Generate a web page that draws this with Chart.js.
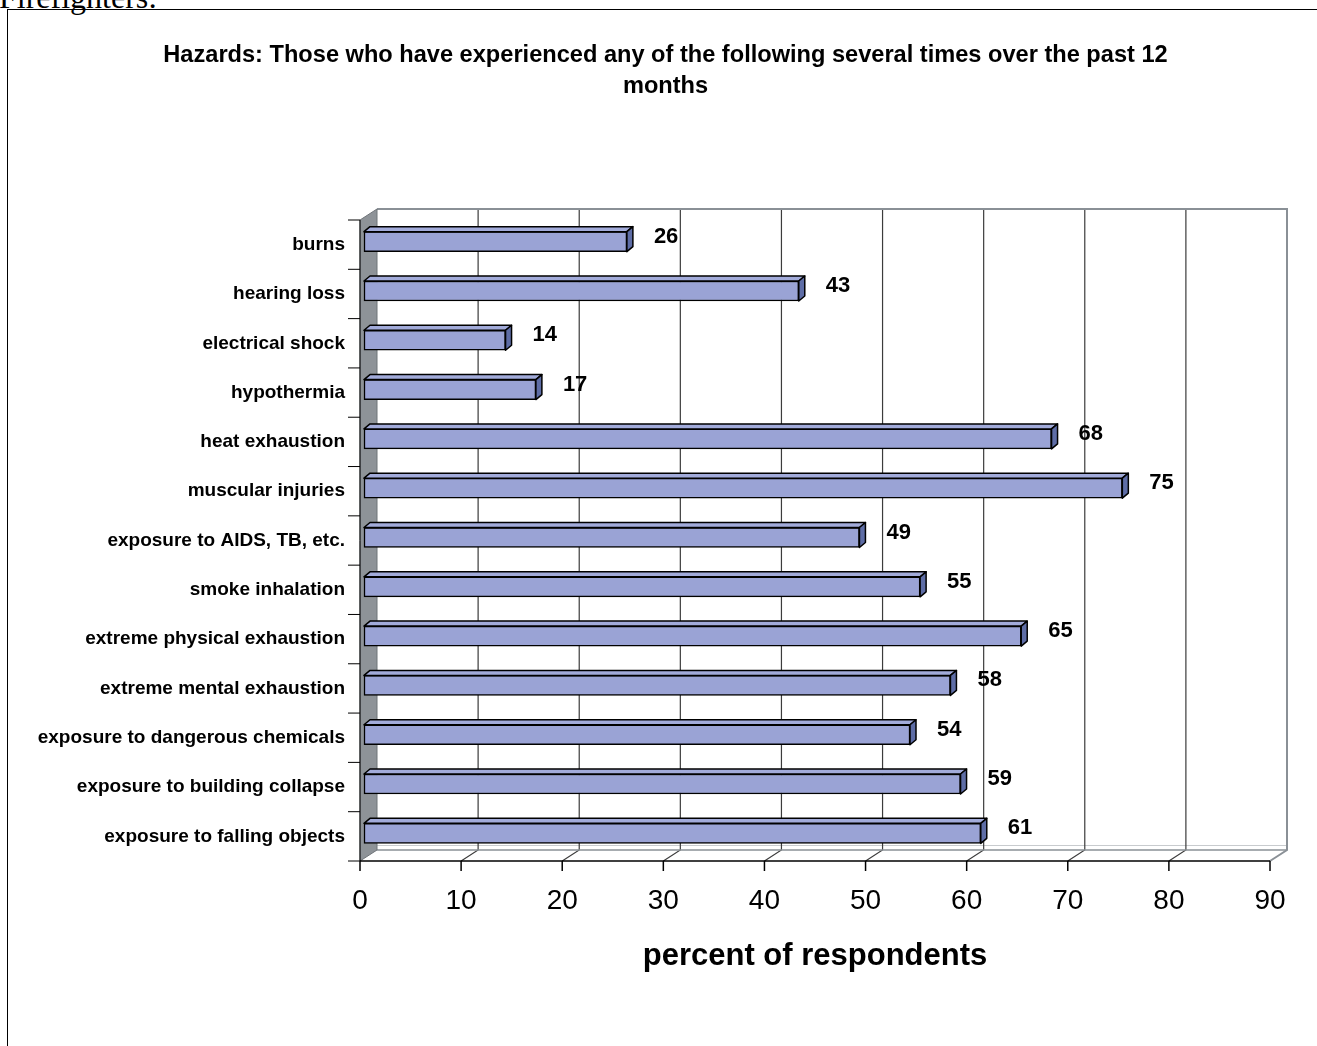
<!DOCTYPE html>
<html>
<head>
<meta charset="utf-8">
<script src="https://cdn.jsdelivr.net/npm/chart.js@4/dist/chart.umd.min.js"></script>
<style>
  html, body { margin: 0; padding: 0; background: #fff; overflow: hidden; }
  #wrap { position: relative; width: 1317px; height: 1046px; }
  #c { position: absolute; left: 0; top: 0; }
  #frame { position: absolute; left: 7px; top: 9px; width: 1400px; height: 1100px; border: 1px solid #000; pointer-events: none; }
  #pre { position: absolute; left: -1px; top: -19px; font-family: 'Liberation Serif', 'Times New Roman', serif; font-size: 32px; line-height: 32px; color: #000; white-space: nowrap; }
</style>
</head>
<body>
<div id="wrap">
  <div id="pre">Firefighters:</div>
  <canvas id="c" width="1317" height="1046"></canvas>
  <div id="frame"></div>
</div>
<script>
const titleLines = ['Hazards: Those who have experienced any of the following several times over the past 12', 'months'];
const categories = ['burns', 'hearing loss', 'electrical shock', 'hypothermia', 'heat exhaustion', 'muscular injuries', 'exposure to AIDS, TB, etc.', 'smoke inhalation', 'extreme physical exhaustion', 'extreme mental exhaustion', 'exposure to dangerous chemicals', 'exposure to building collapse', 'exposure to falling objects'];
const values = [26, 43, 14, 17, 68, 75, 49, 55, 65, 58, 54, 59, 61];
const xMin = 0, xMax = 90, xStep = 10;
const xTitle = 'percent of respondents';

const FONT = "'Liberation Sans', Arial, Helvetica, sans-serif";
Chart.defaults.font.family = FONT;
Chart.defaults.color = '#000';

const DX = 17, DY = -11;           // wall depth
const SX = 4, SY = -3;             // bar front-face shift
const BDX = 6, BDY = -5;           // bar depth

function line(ctx, x1, y1, x2, y2) { ctx.beginPath(); ctx.moveTo(x1, y1); ctx.lineTo(x2, y2); ctx.stroke(); }

const threeD = {
  id: 'threeD',
  beforeDatasetsDraw(chart) {
    const { ctx, chartArea: a, scales: { x } } = chart;
    const L = a.left, R = a.right, T = a.top, B = a.bottom;
    ctx.save();
    // back wall
    ctx.fillStyle = '#fff';
    ctx.fillRect(L + DX, T + DY, R - L, B - T);
    // floor
    ctx.beginPath();
    ctx.moveTo(L, B); ctx.lineTo(L + DX, B + DY); ctx.lineTo(R + DX, B + DY); ctx.lineTo(R, B); ctx.closePath();
    ctx.fillStyle = '#fff'; ctx.fill();
    // faint floor line
    ctx.strokeStyle = '#c8cbce'; ctx.lineWidth = 1;
    line(ctx, L + DX, B + DY - 4.5, R + DX, B + DY - 4.5);
    // gridlines
    ctx.strokeStyle = '#3c3c3c'; ctx.lineWidth = 1.2;
    for (let v = xMin + xStep; v < xMax; v += xStep) {
      const px = x.getPixelForValue(v);
      ctx.beginPath();
      ctx.moveTo(px + DX, T + DY); ctx.lineTo(px + DX, B + DY); ctx.lineTo(px, B);
      ctx.stroke();
    }
    // back wall outline
    ctx.strokeStyle = '#8a9096'; ctx.lineWidth = 2;
    ctx.beginPath();
    ctx.moveTo(L + DX, T + DY); ctx.lineTo(R + DX, T + DY); ctx.lineTo(R + DX, B + DY); ctx.lineTo(R, B);
    ctx.stroke();
    ctx.lineWidth = 1.5;
    line(ctx, L + DX, B + DY, R + DX, B + DY);
    // left wall
    ctx.beginPath();
    ctx.moveTo(L, T); ctx.lineTo(L + DX, T + DY); ctx.lineTo(L + DX, B + DY); ctx.lineTo(L, B); ctx.closePath();
    ctx.fillStyle = '#8e9398'; ctx.fill();
    ctx.strokeStyle = '#6f7479'; ctx.lineWidth = 1; ctx.stroke();
    // front axes
    ctx.strokeStyle = '#000'; ctx.lineWidth = 1.5;
    line(ctx, L, B, R, B);
    for (let v = xMin; v <= xMax; v += xStep) {
      const px = x.getPixelForValue(v);
      line(ctx, px, B, px, B + 10);
    }
    ctx.lineWidth = 1;
    line(ctx, L, T, L, B);
    const n = categories.length;
    const band = (B - T) / n;
    for (let i = 0; i <= n; i++) {
      const py = T + band * i;
      line(ctx, L - 12, py, L, py);
    }
    ctx.restore();
  },
  beforeDatasetDraw(chart) {
    chart.ctx.save();
    chart.ctx.translate(SX, SY);
  },
  afterDatasetDraw(chart, args) {
    const ctx = chart.ctx;
    const ds = chart.data.datasets[args.index];
    args.meta.data.forEach((el) => {
      const p = el.getProps(['x', 'y', 'base', 'height'], true);
      const top = p.y - p.height / 2, bot = p.y + p.height / 2;
      ctx.lineWidth = 1.5; ctx.strokeStyle = '#000'; ctx.lineJoin = 'round';
      // top face
      ctx.beginPath();
      ctx.moveTo(p.base, top); ctx.lineTo(p.x, top); ctx.lineTo(p.x + BDX, top + BDY); ctx.lineTo(p.base + BDX, top + BDY); ctx.closePath();
      ctx.fillStyle = ds.topColor; ctx.fill(); ctx.stroke();
      // side face
      ctx.beginPath();
      ctx.moveTo(p.x, top); ctx.lineTo(p.x + BDX, top + BDY); ctx.lineTo(p.x + BDX, bot + BDY); ctx.lineTo(p.x, bot); ctx.closePath();
      ctx.fillStyle = ds.sideColor; ctx.fill(); ctx.stroke();
    });
    ctx.restore();
  },
  afterDatasetsDraw(chart) {
    const { ctx, scales: { x, y } } = chart;
    ctx.save();
    ctx.font = 'bold 22px ' + FONT;
    ctx.fillStyle = '#000';
    ctx.textAlign = 'left';
    ctx.textBaseline = 'middle';
    values.forEach((v, i) => {
      ctx.fillText(String(v), x.getPixelForValue(v) + 31, y.getPixelForValue(i) - 8);
    });
    // chart title
    ctx.font = 'bold 23.6px ' + FONT;
    ctx.textAlign = 'center';
    titleLines.forEach((t, i) => ctx.fillText(t, 665.5, 55 + i * 31));
    ctx.restore();
  }
};

new Chart(document.getElementById('c'), {
  type: 'bar',
  data: {
    labels: categories,
    datasets: [{
      data: values,
      backgroundColor: '#9aa3d5',
      topColor: '#a2abda',
      sideColor: '#5e6da6',
      borderColor: '#000',
      borderWidth: 1.5,
      borderSkipped: false,
      barThickness: 20,
      clip: false
    }]
  },
  options: {
    indexAxis: 'y',
    responsive: false,
    animation: false,
    layout: { padding: { left: 14, right: 47, top: 220, bottom: 71 } },
    plugins: {
      legend: { display: false },
      tooltip: { enabled: false },
      title: { display: false }
    },
    scales: {
      x: {
        type: 'linear',
        min: xMin, max: xMax,
        grid: { display: false, drawTicks: false },
        border: { display: false },
        ticks: { stepSize: xStep, padding: 23, color: '#000', font: { family: FONT, size: 28 } },
        title: { display: true, text: xTitle, color: '#000', padding: 0, font: { family: FONT, size: 31, weight: 'bold' } },
        afterFit(scale) { scale.height = 114; }
      },
      y: {
        grid: { display: false, drawTicks: false },
        border: { display: false },
        ticks: { autoSkip: false, padding: 15, color: '#000', font: { family: FONT, size: 19, weight: 'bold' } },
        afterFit(scale) { scale.width = 346; }
      }
    }
  },
  plugins: [threeD]
});
</script>
</body>
</html>
